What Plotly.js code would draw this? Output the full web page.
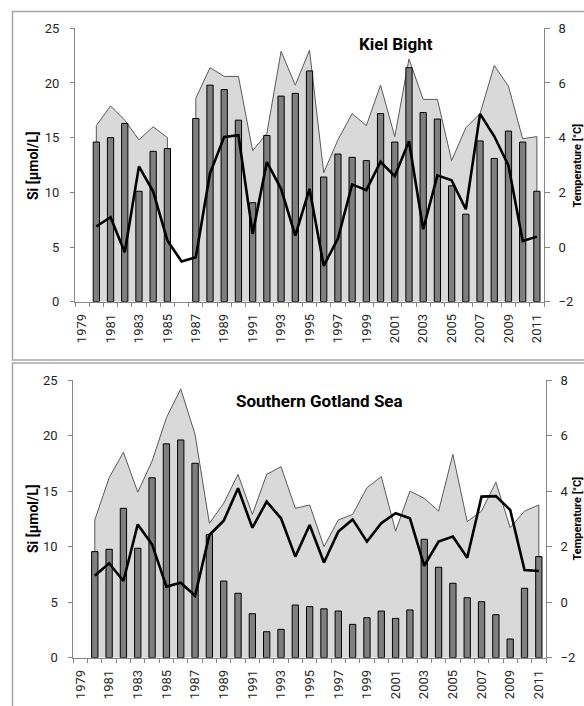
<!DOCTYPE html>
<html>
<head>
<meta charset="utf-8">
<script src="https://cdn.plot.ly/plotly-3.0.1.min.js"></script>
<style>html,body{margin:0;padding:0;background:#fff;}#chart{width:584px;height:706px;}</style>
</head>
<body>
<div id="chart"></div>
<script>
// ---- Data ----
var years = [1979,1980,1981,1982,1983,1984,1985,1986,1987,1988,1989,1990,1991,1992,1993,1994,1995,1996,1997,1998,1999,2000,2001,2002,2003,2004,2005,2006,2007,2008,2009,2010,2011];

// Kiel Bight
var kielSi = [null,14.6,15.0,16.3,10.1,13.75,14.0,null,16.75,19.8,19.4,16.6,9.05,15.2,18.8,19.05,21.1,11.4,13.5,13.2,12.9,17.2,14.6,21.4,17.3,16.7,10.6,8.0,14.7,13.1,15.6,14.6,10.1];
var kielSiMax = [null,16.1,17.9,16.6,14.8,16.0,15.0,null,18.6,21.4,20.6,20.6,13.8,15.4,22.9,19.8,23.0,11.8,14.8,17.2,16.1,19.8,15.1,22.2,18.5,18.5,12.9,15.9,17.2,21.6,19.7,14.9,15.1];
var kielTemp = [null,0.75,1.09,-0.19,2.95,2.03,0.24,-0.53,-0.37,2.7,4.03,4.09,0.48,3.11,2.13,0.42,2.13,-0.69,0.31,2.29,2.08,3.12,2.59,3.87,0.65,2.62,2.44,1.38,4.87,4.05,2.98,0.22,0.38];

// Southern Gotland Sea
var gotSi = [null,9.55,9.76,13.45,9.85,16.2,19.25,19.6,17.5,11.1,6.9,5.8,3.96,2.34,2.55,4.74,4.6,4.4,4.2,3.0,3.6,4.2,3.54,4.3,10.66,8.14,6.7,5.4,5.04,3.87,1.68,6.25,9.1];
var gotSiMax = [null,12.4,16.2,18.5,14.9,17.7,21.6,24.2,20.1,12.1,13.9,16.5,12.9,16.5,17.2,13.45,13.75,10.0,12.4,12.9,15.3,16.3,11.4,15.0,14.35,13.2,18.3,12.25,13.2,15.8,11.7,13.2,13.75];
var gotTemp = [null,0.95,1.4,0.76,2.8,2.08,0.56,0.7,0.23,2.42,2.93,4.1,2.68,3.62,3.02,1.64,2.78,1.43,2.54,2.98,2.18,2.84,3.2,3.02,1.31,2.18,2.36,1.6,3.8,3.82,3.32,1.16,1.12];

var panelTitles = ["Kiel Bight", "Southern Gotland Sea"];
var leftTitle = "Si [µmol/L]";
var rightTitle = "Temperature [°C]";

// ---- Styling helpers ----
var W = 584, H = 706;
function px(x){ return x / W; }
function py(y){ return 1 - y / H; }
var axisColor = '#868686';
var tickFont = {family: 'Roboto, "DejaVu Sans", sans-serif', size: 13, color: '#262626'};
var titleFont = {family: 'Roboto, "DejaVu Sans", sans-serif', size: 14, color: '#000', weight: 'bold'};

var labelYears = years.filter(function(y){ return y % 2 === 1; });
var labelText = labelYears.map(String);

// split a series into contiguous runs (Excel-style area with gaps), closing each run to the baseline
function areaTraces(vals, xa, ya){
  var out = [], xs = [], ys = [];
  function flush(){
    if (xs.length){
      var fx = [xs[0]].concat(xs, [xs[xs.length-1]]);
      var fy = [0].concat(ys, [0]);
      out.push({type:'scatter', mode:'lines', x: fx, y: fy, xaxis: xa, yaxis: ya,
        fill:'tozeroy', fillcolor:'#d9d9d9', line:{color:'#595959', width:1},
        hoverinfo:'skip', showlegend:false});
    }
    xs = []; ys = [];
  }
  for (var i = 0; i < years.length; i++){
    if (vals[i] === null) flush(); else { xs.push(years[i]); ys.push(vals[i]); }
  }
  flush();
  return out;
}
function barTrace(y, xa, ya){
  return {type:'bar', x: years, y: y, xaxis: xa, yaxis: ya, width: 0.44,
    marker:{color:'#7f7f7f', line:{color:'#000', width:1}}, showlegend:false};
}
function lineTrace(y, xa, ya){
  return {type:'scatter', mode:'lines', x: years, y: y, xaxis: xa, yaxis: ya,
    line:{color:'#000', width:2.6}, connectgaps:false, showlegend:false};
}

var data = [].concat(
  areaTraces(kielSiMax, 'x', 'y'),
  [barTrace(kielSi, 'x', 'y2'), lineTrace(kielTemp, 'x', 'y3')],
  areaTraces(gotSiMax, 'x2', 'y4'),
  [barTrace(gotSi, 'x2', 'y5'), lineTrace(gotTemp, 'x2', 'y6')]
);

function xAxis(domain, anchor){
  return {domain: domain, anchor: anchor, range:[1978.5, 2011.5], type:'linear',
    tickvals: labelYears, ticktext: labelText, tickangle: -90, ticks:'',
    ticklabelstandoff: 6,
    minor:{ticks:'outside', tick0: 1978.5, dtick: 1, ticklen: 4, tickcolor: axisColor, tickwidth: 1, showgrid:false},
    showline:true, linecolor: axisColor, linewidth:1, showgrid:false, zeroline:false,
    tickfont: tickFont, fixedrange:true};
}
function yLeft(domain, anchor){
  return {domain: domain, anchor: anchor, range:[0,25], dtick:5, tick0:0, ticks:'outside', ticklen:4,
    tickcolor: axisColor, showline:true, linecolor: axisColor, linewidth:1, showgrid:false, zeroline:false,
    ticklabelstandoff: 8, tickfont: tickFont, fixedrange:true};
}
function yHidden(over, anchor){
  return {overlaying: over, anchor: anchor, range:[0,25], visible:false, fixedrange:true};
}
function yRight(over, anchor){
  return {overlaying: over, anchor: anchor, side:'right', range:[-2,8], dtick:2, tick0:0, ticks:'outside', ticklen:5,
    tickcolor: axisColor, showline:true, linecolor: axisColor, linewidth:1, showgrid:false, zeroline:false,
    ticklabelstandoff: 6, tickfont: tickFont, fixedrange:true};
}

var topX = [px(75), px(544)], topY = [py(301.7), py(28.3)];
var botX = [px(73.3), px(546)], botY = [py(657.7), py(380)];

var rightTitleFont = {family: 'Roboto, "DejaVu Sans", sans-serif', size: 11, color: '#000', weight: 'bold'};

var layout = {
  width: W, height: H, margin:{l:0, r:0, t:0, b:0},
  paper_bgcolor:'#fff', plot_bgcolor:'rgba(0,0,0,0)',
  showlegend:false, bargap:0,
  xaxis: xAxis(topX, 'y'),
  yaxis: yLeft(topY, 'x'),
  yaxis2: yHidden('y', 'x'),
  yaxis3: yRight('y', 'x'),
  xaxis2: xAxis(botX, 'y4'),
  yaxis4: yLeft(botY, 'x2'),
  yaxis5: yHidden('y4', 'x2'),
  yaxis6: yRight('y4', 'x2'),
  shapes: [
    {type:'rect', xref:'paper', yref:'paper', x0: px(12.5), x1: 1.1, y0: py(360), y1: py(11.5),
      line:{color:'#a6a6a6', width:1.5}, fillcolor:'rgba(0,0,0,0)', layer:'below'},
    {type:'rect', xref:'paper', yref:'paper', x0: px(12.5), x1: 1.1, y0: -0.1, y1: py(363),
      line:{color:'#a6a6a6', width:1.5}, fillcolor:'rgba(0,0,0,0)', layer:'below'}
  ],
  annotations: [
    {text: panelTitles[0], xref:'paper', yref:'paper', x: px(396), y: py(44), xanchor:'center', yanchor:'middle',
      showarrow:false, font:{family:'Roboto, sans-serif', size:17, color:'#000', weight:'bold'}},
    {text: panelTitles[1], xref:'paper', yref:'paper', x: px(319), y: py(401), xanchor:'center', yanchor:'middle',
      showarrow:false, font:{family:'Roboto, sans-serif', size:17, color:'#000', weight:'bold'}},
    {text: leftTitle, xref:'paper', yref:'paper', x: px(33), y: py(166), xanchor:'center', yanchor:'middle',
      textangle:-90, showarrow:false, font: titleFont},
    {text: leftTitle, xref:'paper', yref:'paper', x: px(33), y: py(519), xanchor:'center', yanchor:'middle',
      textangle:-90, showarrow:false, font: titleFont},
    {text: rightTitle, xref:'paper', yref:'paper', x: 1, y: py(166), xanchor:'right', yanchor:'middle',
      textangle:-90, showarrow:false, font: rightTitleFont, borderpad:0},
    {text: rightTitle, xref:'paper', yref:'paper', x: 1, y: py(519), xanchor:'right', yanchor:'middle',
      textangle:-90, showarrow:false, font: rightTitleFont, borderpad:0}
  ]
};

Plotly.newPlot('chart', data, layout, {displayModeBar:false, staticPlot:true});
</script>
</body>
</html>
